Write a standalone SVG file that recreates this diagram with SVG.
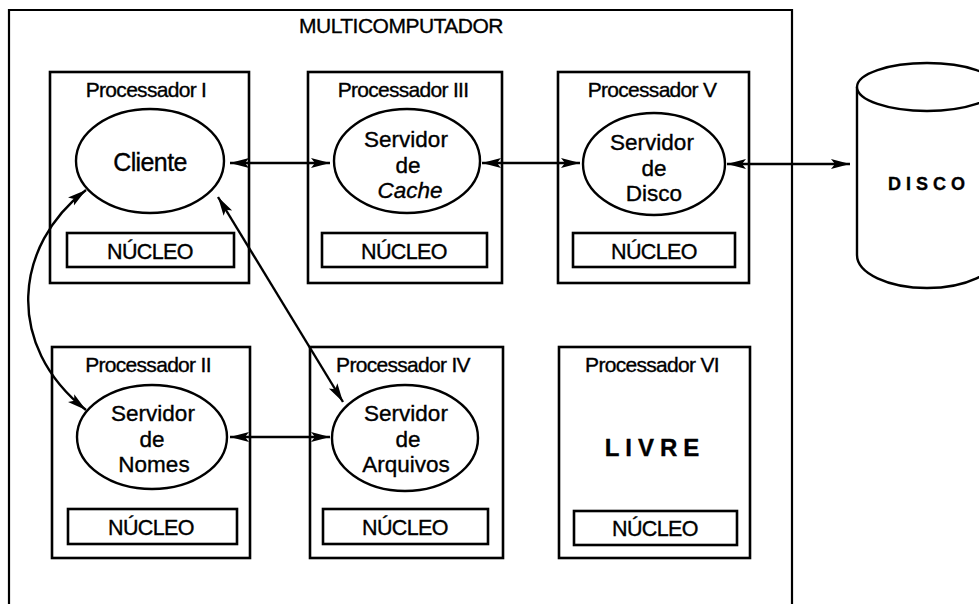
<svg xmlns="http://www.w3.org/2000/svg" width="979" height="604" viewBox="0 0 979 604">
<style>
  .frame { fill: none; stroke: #000; stroke-width: 2.2; }
  .box { fill: #fff; stroke: #000; stroke-width: 2.6; }
  .nuc { fill: #fff; stroke: #000; stroke-width: 2.6; }
  .ell { fill: #fff; stroke: #000; stroke-width: 2.4; }
  .conn { fill: none; stroke: #000; stroke-width: 2.4; marker-start: url(#ah); marker-end: url(#ah); }
  text { font-family: "Liberation Sans", Arial, sans-serif; fill: #000; text-anchor: middle; stroke: #000; stroke-width: 0.35px; }
  .title { font-size: 21px; letter-spacing: -0.5px; }
  .ptitle { font-size: 21px; letter-spacing: -0.7px; }
  .single { font-size: 25px; letter-spacing: -0.6px; }
  .proc { font-size: 22.5px; letter-spacing: 0px; }
  .nuct { font-size: 21.5px; letter-spacing: -0.6px; }
</style>
<defs>
  <marker id="ah" markerUnits="userSpaceOnUse" markerWidth="22" markerHeight="12" refX="19" refY="6" orient="auto-start-reverse">
    <path d="M0,1 L19,6 L0,11 L4,6 z" fill="#000"/>
  </marker>
</defs>

<g id="multicomputador">
  <path class="frame" d="M9,606 V10 H792 V606"/>
  <text class="title" x="401" y="33">MULTICOMPUTADOR</text>
</g>

<g id="proc1">
  <rect class="box" x="50" y="72" width="199" height="211"/>
  <text class="ptitle" x="146" y="97">Processador I</text>
  <ellipse class="ell" cx="150" cy="161" rx="74" ry="52"/>
  <text class="single" x="150" y="171">Cliente</text>
  <rect class="nuc" x="67" y="233" width="167" height="34"/>
  <text class="nuct" x="150" y="259">NÚCLEO</text>
</g>

<g id="proc3">
  <rect class="box" x="308" y="72" width="194" height="211"/>
  <text class="ptitle" x="403" y="97">Processador III</text>
  <ellipse class="ell" cx="407" cy="161" rx="73" ry="52"/>
  <text class="proc" x="406" y="147">Servidor</text>
  <text class="proc" x="408" y="172.5">de</text>
  <text class="proc" x="410" y="198" font-style="italic">Cache</text>
  <rect class="nuc" x="322" y="233" width="165" height="34"/>
  <text class="nuct" x="404" y="259">NÚCLEO</text>
</g>

<g id="proc5">
  <rect class="box" x="558" y="72" width="191" height="211"/>
  <text class="ptitle" x="652" y="97">Processador V</text>
  <ellipse class="ell" cx="654" cy="164" rx="71" ry="51"/>
  <text class="proc" x="652" y="150">Servidor</text>
  <text class="proc" x="654" y="175.5">de</text>
  <text class="proc" x="654" y="201">Disco</text>
  <rect class="nuc" x="573" y="233" width="162" height="34"/>
  <text class="nuct" x="654" y="259">NÚCLEO</text>
</g>

<g id="proc2">
  <rect class="box" x="52" y="347" width="198" height="211"/>
  <text class="ptitle" x="148" y="372">Processador II</text>
  <ellipse class="ell" cx="152" cy="437" rx="75" ry="52"/>
  <text class="proc" x="153" y="421">Servidor</text>
  <text class="proc" x="152" y="446.5">de</text>
  <text class="proc" x="154" y="472">Nomes</text>
  <rect class="nuc" x="68" y="509" width="169" height="35"/>
  <text class="nuct" x="151" y="535">NÚCLEO</text>
</g>

<g id="proc4">
  <rect class="box" x="310" y="347" width="193" height="211"/>
  <text class="ptitle" x="403" y="372">Processador IV</text>
  <ellipse class="ell" cx="405" cy="438" rx="73" ry="53"/>
  <text class="proc" x="406" y="421">Servidor</text>
  <text class="proc" x="408" y="446.5">de</text>
  <text class="proc" x="406" y="472">Arquivos</text>
  <rect class="nuc" x="323" y="509" width="165" height="35"/>
  <text class="nuct" x="405" y="535">NÚCLEO</text>
</g>

<g id="proc6">
  <rect class="box" x="559" y="347" width="191" height="211"/>
  <text class="ptitle" x="652" y="372">Processador VI</text>
  <text x="655" y="456" font-size="24" font-weight="bold" letter-spacing="6" stroke-width="0">LIVRE</text>
  <rect class="nuc" x="574" y="511" width="163" height="34"/>
  <text class="nuct" x="655" y="536">NÚCLEO</text>
</g>

<g id="disco">
  <path class="ell" d="M857,87 V255 A70,33 0 0 0 997,255 V87"/>
  <ellipse class="ell" cx="927" cy="87" rx="70" ry="24"/>
  <text x="929" y="190" font-size="18" font-weight="bold" letter-spacing="5" stroke-width="0">DISCO</text>
</g>

<g id="connectors">
  <path class="conn" d="M230,163 H330"/>
  <path class="conn" d="M482,163 H580"/>
  <path class="conn" d="M727,164 H850"/>
  <path class="conn" d="M230,437 H330"/>
  <path class="conn" d="M86,190 C14,245 4,345 86,410"/>
  <path class="conn" d="M218,197 L343,402"/>
</g>
</svg>
